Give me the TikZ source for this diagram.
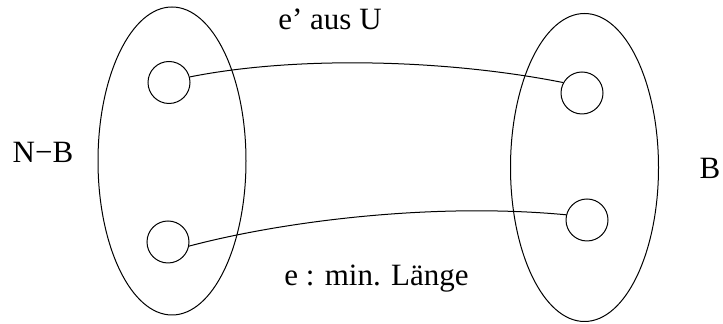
\documentclass[tikz,border=0pt]{standalone}
\usepackage{fontspec}
\setmainfont{Liberation Serif}
\usetikzlibrary{shapes.geometric}
\begin{document}
\begin{tikzpicture}[x=0.5pt,y=-0.5pt,
  setbox/.style={draw,ellipse,inner sep=0pt,minimum width=74pt,minimum height=154pt,line width=0.5pt},
  elem/.style={draw,circle,inner sep=0pt,minimum size=21pt,line width=0.5pt},
  edge/.style={line width=0.5pt},
  lbl/.style={anchor=base,inner sep=0pt,font=\fontsize{15.5pt}{18pt}\selectfont}]
\useasboundingbox (0,0) rectangle (723,324);
\node[setbox] (L) at (172,161) {};
\node[setbox] (R) at (584.5,167.5) {};
\node[elem] (tl) at (169,82.5) {};
\node[elem] (bl) at (168,242) {};
\node[elem] (tr) at (582,93) {};
\node[elem] (br) at (587,220) {};
\draw[edge] (tl.15) .. controls (300,55) and (450,60) .. (tr.151);
\draw[edge] (bl.-11) .. controls (280,222) and (430,202) .. (br.166);
\node[lbl] (t1) at (330,30) {e’ aus U};
\node[lbl] (t2) at (376.5,286) {e : min. Länge};
\node[lbl] (t3) at (43,162.5) {N−B};
\node[lbl] (t4) at (710,179) {B};
\end{tikzpicture}
\end{document}
